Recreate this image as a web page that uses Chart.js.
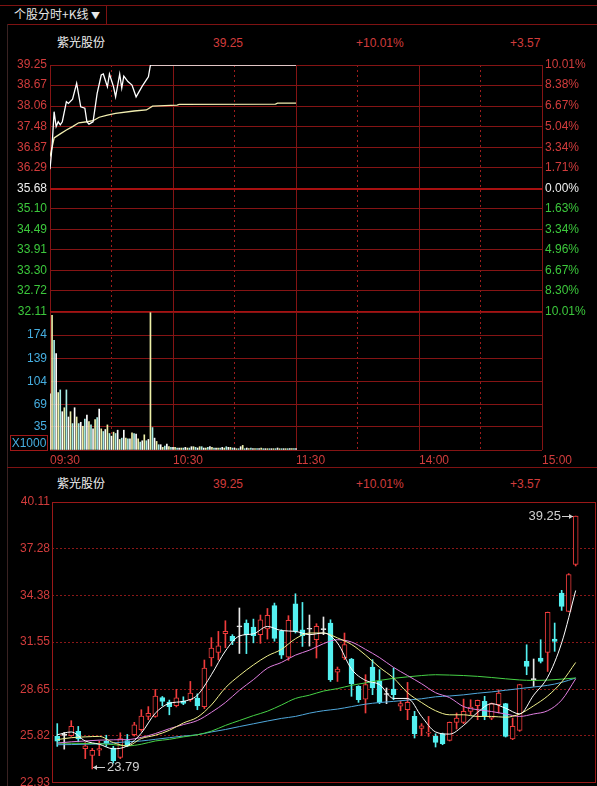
<!DOCTYPE html>
<html>
<head>
<meta charset="utf-8">
<script src="https://cdn.jsdelivr.net/npm/chart.js@4.4.1/dist/chart.umd.min.js"></script>
<style>
  html, body { margin: 0; padding: 0; background: #000; }
  body { width: 597px; height: 786px; overflow: hidden; position: relative;
         font-family: "Liberation Sans", Arial, sans-serif; }
  canvas { position: absolute; left: 0; }
  .txt { position: absolute; font-size: 12px; line-height: 14px; white-space: nowrap; }
  .cn { font-family: "Noto Sans CJK SC", sans-serif; }
  .hl { position: absolute; height: 1px; background: #7e1212; }
  .vl { position: absolute; width: 1px; }
  .red { color: #d23c3c; }
</style>
</head>
<body>
<div class="hl" style="left:0;top:5px;width:597px"></div>
<div class="hl" style="left:7px;top:24px;width:590px"></div>
<div class="vl" style="left:106px;top:5px;height:19px;background:#7e1212"></div>
<div class="vl" style="left:7px;top:24px;height:762px;background:#3a2222"></div>
<div class="hl" style="left:7px;top:467px;width:590px"></div>
<div class="txt cn" style="left:14px;top:7px;color:#e6e6e6">个股分时+K线 <span style="font-size:9px">&#9660;</span></div>

<div class="txt cn" style="left:57px;top:35px;color:#f0f0f0">紫光股份</div>
<div class="txt red" style="left:213px;top:36px">39.25</div>
<div class="txt red" style="left:356px;top:36px">+10.01%</div>
<div class="txt red" style="left:510px;top:36px">+3.57</div>

<div class="txt cn" style="left:57px;top:476px;color:#f0f0f0">紫光股份</div>
<div class="txt red" style="left:213px;top:477px">39.25</div>
<div class="txt red" style="left:356px;top:477px">+10.01%</div>
<div class="txt red" style="left:510px;top:477px">+3.57</div>

<canvas id="priceChart" width="597" height="275" style="top:50px"></canvas>
<canvas id="volChart" width="597" height="176" style="top:300px"></canvas>
<canvas id="klineChart" width="597" height="306" style="top:490px"></canvas>

<div class="txt" style="left:10px;top:435px;width:36px;height:14px;border:1px solid #a01818;color:#46aee0;text-align:center">X1000</div>

<script>
// ---- intraday (分时), minutes after 09:30 ----
const prevClose = 35.68;
const priceMinutes = [0, 1, 2, 3, 4, 5, 6, 8, 9, 11, 13, 15, 17, 18, 19, 21, 23, 25, 26, 28, 29, 31, 32, 34, 35, 36, 38, 40, 42, 45, 47, 48, 49, 120];
const priceValues = [36.24, 36.89, 37.90, 37.47, 37.61, 37.52, 37.61, 38.19, 38.14, 38.26, 38.72, 38.04, 38.00, 37.61, 37.54, 37.61, 38.43, 38.96, 38.99, 38.62, 38.99, 38.62, 38.33, 38.99, 38.58, 38.93, 38.77, 38.67, 38.33, 38.64, 38.82, 38.91, 39.25, 39.25];
const avgMinutes = [0, 2, 5, 8, 11, 14, 18, 21, 24, 28, 32, 41, 47, 50, 62, 63, 110, 111, 120];
const avgValues = [36.60, 37.14, 37.26, 37.37, 37.47, 37.58, 37.61, 37.64, 37.74, 37.80, 37.85, 37.92, 37.95, 38.06, 38.09, 38.11, 38.12, 38.15, 38.15];
// volume per minute, x1000
const volumeK = [
  85, 204, 166, 146, 87, 91, 58, 64, 91, 50,
  58, 40, 64, 50, 40, 42, 36, 47, 53, 43,
  38, 32, 46, 49, 62, 32, 28, 31, 38, 25,
  21, 27, 25, 30, 16, 18, 30, 18, 17, 17,
  26, 25, 24, 17, 12, 14, 23, 14, 16, 208,
  34, 18, 13, 8, 8, 4, 6, 9, 5, 4,
  4, 4, 3, 3, 3, 3, 4, 3, 3, 5,
  5, 4, 3, 5, 5, 3, 3, 4, 5, 4,
  3, 3, 3, 3, 4, 3, 5, 4, 4, 3,
  3, 2, 2, 5, 7, 2, 3, 2, 3, 2,
  2, 2, 2, 3, 2, 2, 2, 2, 2, 2,
  2, 3, 2, 2, 2, 2, 2, 2, 2, 2, 2
];
const priceTicks = [32.11, 32.72, 33.30, 33.91, 34.49, 35.10, 35.68, 36.29, 36.87, 37.48, 38.06, 38.67, 39.25];
const pctLabels = ['10.01%', '8.30%', '6.67%', '4.96%', '3.34%', '1.63%', '0.00%', '1.71%', '3.34%', '5.04%', '6.67%', '8.38%', '10.01%'];
const volTicks = [0, 35, 69, 104, 139, 174, 209];
const timeTicks = [0, 60, 120, 180, 240];
const halfHourTicks = [30, 90, 150, 210];
const timeLabels = ['09:30', '10:30', '11:30', '14:00', '15:00'];

// ---- daily K-line ----
const kOpen = [25.78, 25.84, 25.82, 26.09, 25.03, 24.62, 24.93, 25.50, 25.07, 24.50,
  25.52, 25.88, 26.19, 27.00, 27.00, 28.15, 27.88, 27.66, 27.92, 28.02,
  28.12, 27.60, 30.57, 30.92, 32.06, 31.90, 32.48, 32.70, 32.47, 32.00,
  32.35, 33.77, 32.20, 30.63, 33.89, 32.30, 32.35, 31.69, 32.31, 32.71,
  29.70, 30.57, 30.51, 28.84, 28.06, 30.02, 29.14, 28.34, 28.67, 27.62,
  27.41, 27.00, 26.27, 25.98, 25.78, 25.94, 25.54, 26.64, 26.64, 27.31,
  27.66, 27.92, 26.90, 27.72, 27.78, 25.62, 26.15, 30.37, 29.27, 30.57,
  30.92, 31.73, 34.54, 33.42, 36.29];
const kHigh = [26.56, 26.02, 26.74, 26.39, 25.40, 25.05, 25.50, 25.85, 25.17, 26.00,
  25.90, 26.64, 27.41, 27.60, 28.65, 28.22, 28.00, 28.66, 28.20, 29.14,
  28.38, 30.45, 31.82, 32.20, 32.85, 32.00, 33.63, 32.90, 32.95, 33.20,
  33.60, 33.93, 32.30, 33.16, 34.50, 33.97, 33.20, 32.67, 33.08, 32.91,
  30.02, 32.10, 30.55, 28.88, 29.55, 30.47, 29.86, 28.74, 29.96, 27.92,
  29.08, 27.31, 26.56, 27.00, 25.94, 25.98, 26.66, 27.21, 28.06, 28.02,
  28.00, 28.23, 27.82, 28.63, 27.80, 26.90, 28.96, 31.38, 30.51, 31.69,
  33.38, 32.71, 34.71, 35.73, 39.25];
const kLow = [25.17, 25.00, 25.78, 25.45, 24.42, 23.79, 24.60, 25.17, 24.15, 24.42,
  25.15, 25.80, 26.09, 26.80, 26.95, 27.65, 27.10, 27.58, 27.72, 27.92,
  27.41, 27.48, 30.08, 30.45, 31.20, 31.39, 30.85, 30.84, 31.50, 31.47,
  31.73, 31.60, 30.54, 30.43, 32.10, 31.28, 31.30, 30.57, 32.00, 29.14,
  29.14, 30.47, 28.23, 27.86, 27.21, 28.33, 27.78, 27.78, 28.02, 27.35,
  26.80, 25.68, 25.82, 25.78, 25.13, 25.27, 25.50, 26.23, 26.56, 27.10,
  26.80, 26.80, 26.80, 27.21, 25.74, 25.58, 26.09, 29.55, 28.84, 30.27,
  29.75, 30.98, 33.48, 33.40, 36.20];
const kClose = [25.48, 25.84, 26.39, 25.62, 25.21, 24.93, 25.03, 25.35, 24.30, 25.65,
  25.25, 26.49, 27.02, 27.19, 28.25, 27.92, 27.60, 28.13, 27.80, 28.43,
  27.65, 29.96, 31.18, 31.32, 32.20, 31.60, 32.48, 32.00, 31.94, 32.91,
  33.18, 31.77, 30.74, 32.87, 32.20, 31.94, 32.33, 32.51, 32.31, 29.25,
  29.90, 31.40, 29.00, 28.02, 28.94, 28.74, 27.86, 28.34, 28.33, 27.78,
  27.86, 25.94, 26.43, 26.04, 25.41, 25.33, 26.64, 26.90, 27.31, 27.57,
  27.98, 27.04, 27.78, 28.43, 25.78, 26.39, 28.94, 30.06, 29.25, 30.37,
  33.36, 31.59, 33.73, 35.68, 39.25];
const maIdx = [0, 2, 4, 6, 8, 10, 12, 14, 16, 18, 20, 22, 24, 26, 28, 30, 32, 34, 36,
  38, 40, 42, 44, 46, 48, 50, 52, 54, 56, 58, 60, 62, 64, 66, 68, 70, 72, 74];
const ma5 = [25.88, 26.05, 25.5, 25.3, 25.02, 25.2, 25.98, 27.2, 27.8, 27.92, 28.3, 29.55, 31.0, 31.92, 32.05, 32.5, 32.25, 32.2, 32.0,
  32.1, 31.49, 29.9, 29.2, 28.95, 28.1, 28.1, 27.0, 26.05, 25.92, 26.45, 27.25, 27.78, 27.5, 27.15, 28.3, 29.4, 31.5, 34.7];
const ma10 = [25.58, 25.7, 25.75, 25.78, 25.4, 25.2, 25.65, 25.85, 26.15, 26.6, 26.95, 27.7, 28.75, 29.5, 30.15, 30.7, 31.1, 31.75, 32.1,
  32.1, 31.8, 31.4, 30.75, 30.0, 29.35, 28.45, 27.85, 27.35, 27.1, 27.1, 27.0, 27.0, 26.95, 27.15, 27.65, 28.25, 29.1, 30.3];
const ma20 = [25.37, 25.45, 25.5, 25.55, 25.57, 25.58, 25.72, 25.95, 26.25, 26.5, 26.75, 27.25, 27.85, 28.6, 29.25, 29.95, 30.3, 30.75, 31.05,
  31.45, 31.69, 31.55, 31.1, 30.6, 30.0, 29.5, 29.0, 28.45, 28.15, 27.6, 27.41, 27.3, 27.15, 27.0, 27.15, 27.35, 28.0, 29.3];
const ma60 = [25.37, 25.36, 25.35, 25.33, 25.28, 25.2, 25.3, 25.5, 25.6, 25.75, 25.88, 26.1, 26.45, 26.75, 27.05, 27.32, 27.7, 28.1, 28.3,
  28.55, 28.7, 28.9, 29.05, 29.2, 29.33, 29.42, 29.5, 29.55, 29.53, 29.5, 29.45, 29.38, 29.3, 29.23, 29.2, 29.22, 29.28, 29.35];
const ma120 = [25.27, 25.28, 25.3, 25.32, 25.38, 25.45, 25.5, 25.6, 25.7, 25.8, 25.88, 26.05, 26.2, 26.38, 26.55, 26.72, 26.88, 27.0, 27.2,
  27.35, 27.45, 27.6, 27.75, 27.85, 27.92, 28.0, 28.08, 28.2, 28.25, 28.32, 28.42, 28.5, 28.6, 28.7, 28.8, 28.9, 29.08, 29.35];
const kTicks = [22.93, 25.82, 28.65, 31.55, 34.38, 37.28, 40.11];

// colours
const RED = '#d23c3c';
const GREEN = '#3cc83c';
const WHITE = '#f0f0f0';
const BLUE = '#46aee0';
const GRID = '#841414';
const DOTTED = '#9c1c1c';
const UP = '#f03c3c';
const DOWN = '#54f0f0';
const DOJI = '#e8e8e8';

Chart.defaults.font.family = '"Liberation Sans", Arial, sans-serif';
Chart.defaults.font.size = 12;

const noPlugins = { legend: { display: false }, tooltip: { enabled: false } };
const setTicks = list => scale => { scale.ticks = list.map(v => ({ value: v })); };

// dotted half-hour lines on the time axis (grid dash comes from border.dash in v4)
const halfHourAxis = {
    type: 'linear', position: 'bottom', min: 0, max: 240, offset: false,
    afterBuildTicks: setTicks(halfHourTicks),
    ticks: { display: false },
    grid: { color: DOTTED, lineWidth: 1, drawTicks: false, offset: false },
    border: { display: false, dash: [2, 3] }
};

// price panel
new Chart(document.getElementById('priceChart'), {
    type: 'line',
    data: {
        datasets: [{
            data: priceMinutes.map((m, i) => ({ x: m, y: priceValues[i] })),
            borderColor: '#ffffff',
            borderWidth: 1.3,
            pointRadius: 0
        }, {
            data: avgMinutes.map((m, i) => ({ x: m, y: avgValues[i] })),
            borderColor: '#f2eeb0',
            borderWidth: 1.3,
            pointRadius: 0
        }]
    },
    options: {
        responsive: false,
        animation: false,
        layout: { padding: { top: 15, bottom: 13 } },
        plugins: noPlugins,
        scales: {
            x: {
                type: 'linear', min: 0, max: 240,
                afterBuildTicks: setTicks(timeTicks),
                ticks: { display: false },
                grid: { color: GRID, drawTicks: false },
                border: { display: false }
            },
            x2: halfHourAxis,
            y: {
                min: 32.11, max: 39.25,
                afterBuildTicks: setTicks(priceTicks),
                afterFit: s => { s.width = 50; },
                ticks: {
                    padding: 3,
                    callback: v => v.toFixed(2),
                    color: c => c.tick.value > prevClose + 0.001 ? RED : (Math.abs(c.tick.value - prevClose) < 0.001 ? WHITE : GREEN)
                },
                grid: {
                    drawTicks: false,
                    color: c => (c.tick && (Math.abs(c.tick.value - prevClose) < 0.001 || c.tick.value < 32.2)) ? '#a81010' : GRID,
                    lineWidth: c => (c.tick && (Math.abs(c.tick.value - prevClose) < 0.001 || c.tick.value < 32.2)) ? 2 : 1
                },
                border: { display: false }
            },
            yPct: {
                position: 'right', min: 32.11, max: 39.25,
                afterBuildTicks: setTicks(priceTicks),
                afterFit: s => { s.width = 55; },
                ticks: {
                    padding: 3,
                    callback: (v, i) => pctLabels[i],
                    color: c => c.index > 6 ? RED : (c.index === 6 ? WHITE : GREEN)
                },
                grid: { drawOnChartArea: false, drawTicks: false },
                border: { display: false }
            }
        }
    }
});

// volume panel
const volColors = ['#ffffff', '#eef0a8', '#a8ece4'];
new Chart(document.getElementById('volChart'), {
    type: 'bar',
    data: {
        datasets: [{
            data: volumeK.map((v, i) => ({ x: i, y: v })),
            backgroundColor: c => volColors[c.dataIndex % 3],
            barThickness: 1
        }]
    },
    options: {
        responsive: false,
        animation: false,
        layout: { padding: { top: 12, bottom: 4, right: 55 } },
        plugins: noPlugins,
        scales: {
            x: {
                type: 'linear', min: 0, max: 240, offset: false,
                afterBuildTicks: setTicks(timeTicks),
                afterFit: s => { s.height = 22; },
                ticks: { color: RED, align: 'start', padding: 3, callback: (v, i) => timeLabels[i] },
                grid: { color: GRID, drawTicks: false, offset: false },
                border: { display: false }
            },
            x2: halfHourAxis,
            y: {
                min: 0, max: 209,
                afterBuildTicks: setTicks(volTicks),
                afterFit: s => { s.width = 50; },
                ticks: { color: BLUE, padding: 3, callback: v => (v === 0 || v === 209) ? '' : v },
                grid: { color: GRID, drawTicks: false },
                border: { display: false }
            }
        }
    }
});

// K-line panel
const isDoji = i => Math.abs(kClose[i] - kOpen[i]) < 0.03;
const candleColor = i => isDoji(i) ? DOJI : (kClose[i] > kOpen[i] ? UP : DOWN);

const frame = {
    id: 'frame',
    beforeDatasetsDraw(chart) {
        const { ctx, chartArea: a } = chart;
        ctx.save();
        ctx.strokeStyle = '#9a1818';
        ctx.lineWidth = 1;
        ctx.strokeRect(a.left + 0.5, a.top + 0.5, a.width - 1, a.height - 1);
        ctx.restore();
    }
};

const extremeMarks = {
    id: 'extremeMarks',
    afterDatasetsDraw(chart) {
        const { ctx, scales: { x, y } } = chart;
        const hi = kHigh.indexOf(Math.max(...kHigh));
        const lo = kLow.indexOf(Math.min(...kLow));
        ctx.save();
        ctx.strokeStyle = '#d0d0d0';
        ctx.fillStyle = '#d0d0d0';
        ctx.lineWidth = 1;
        ctx.font = '13px "Liberation Sans", Arial, sans-serif';
        ctx.textBaseline = 'middle';

        let px = Math.round(x.getPixelForValue(hi)) - 3;
        let py = Math.round(y.getPixelForValue(kHigh[hi])) + 0.5;
        ctx.beginPath(); ctx.moveTo(px - 11, py); ctx.lineTo(px, py); ctx.stroke();
        ctx.beginPath(); ctx.moveTo(px, py); ctx.lineTo(px - 4, py - 2.5); ctx.lineTo(px - 4, py + 2.5); ctx.fill();
        ctx.textAlign = 'right';
        ctx.fillText(kHigh[hi].toFixed(2), px - 12, py);

        px = Math.round(x.getPixelForValue(lo)) + 1;
        py = Math.round(y.getPixelForValue(kLow[lo])) - 1.5;
        ctx.beginPath(); ctx.moveTo(px, py); ctx.lineTo(px + 12, py); ctx.stroke();
        ctx.beginPath(); ctx.moveTo(px, py); ctx.lineTo(px + 4, py - 2.5); ctx.lineTo(px + 4, py + 2.5); ctx.fill();
        ctx.textAlign = 'left';
        ctx.fillText(kLow[lo].toFixed(2), px + 14, py);
        ctx.restore();
    }
};

const maLine = (values, color) => ({
    type: 'line',
    data: maIdx.map((d, k) => ({ x: d, y: values[k] })),
    borderColor: color,
    borderWidth: 1,
    pointRadius: 0,
    cubicInterpolationMode: 'monotone'
});

new Chart(document.getElementById('klineChart'), {
    type: 'bar',
    data: {
        datasets: [
            maLine(ma5, '#ffffff'),
            maLine(ma10, '#f0f08c'),
            maLine(ma20, '#e07ee0'),
            maLine(ma60, '#46d246'),
            maLine(ma120, '#50a8dc'),
            {
                // candle bodies
                data: kOpen.map((o, i) => ({ x: i, y: [o, kClose[i]] })),
                backgroundColor: c => kClose[c.dataIndex] > kOpen[c.dataIndex] ? '#000000' : candleColor(c.dataIndex),
                borderColor: c => candleColor(c.dataIndex),
                borderWidth: 1,
                borderSkipped: false,
                barThickness: 5,
                minBarLength: 1,
                grouped: false
            },
            {
                // wicks
                data: kLow.map((l, i) => ({ x: i, y: [l, kHigh[i]] })),
                backgroundColor: c => candleColor(c.dataIndex),
                barThickness: 1,
                grouped: false
            }
        ]
    },
    options: {
        responsive: false,
        animation: false,
        layout: { padding: { top: 12, bottom: 13, right: 1 } },
        plugins: noPlugins,
        scales: {
            x: { type: 'linear', min: -0.75, max: 76.9, offset: false, display: false, grid: { offset: false } },
            y: {
                min: 22.93, max: 40.11,
                afterBuildTicks: setTicks(kTicks),
                afterFit: s => { s.width = 52; },
                ticks: { color: RED, padding: 2, callback: v => v.toFixed(2) },
                grid: {
                    drawTicks: false,
                    color: c => (c.index === 0 || c.index === kTicks.length - 1) ? 'rgba(0,0,0,0)' : '#8a1818'
                },
                border: { display: false, dash: [2, 2] }
            }
        }
    },
    plugins: [frame, extremeMarks]
});
</script>
</body>
</html>
